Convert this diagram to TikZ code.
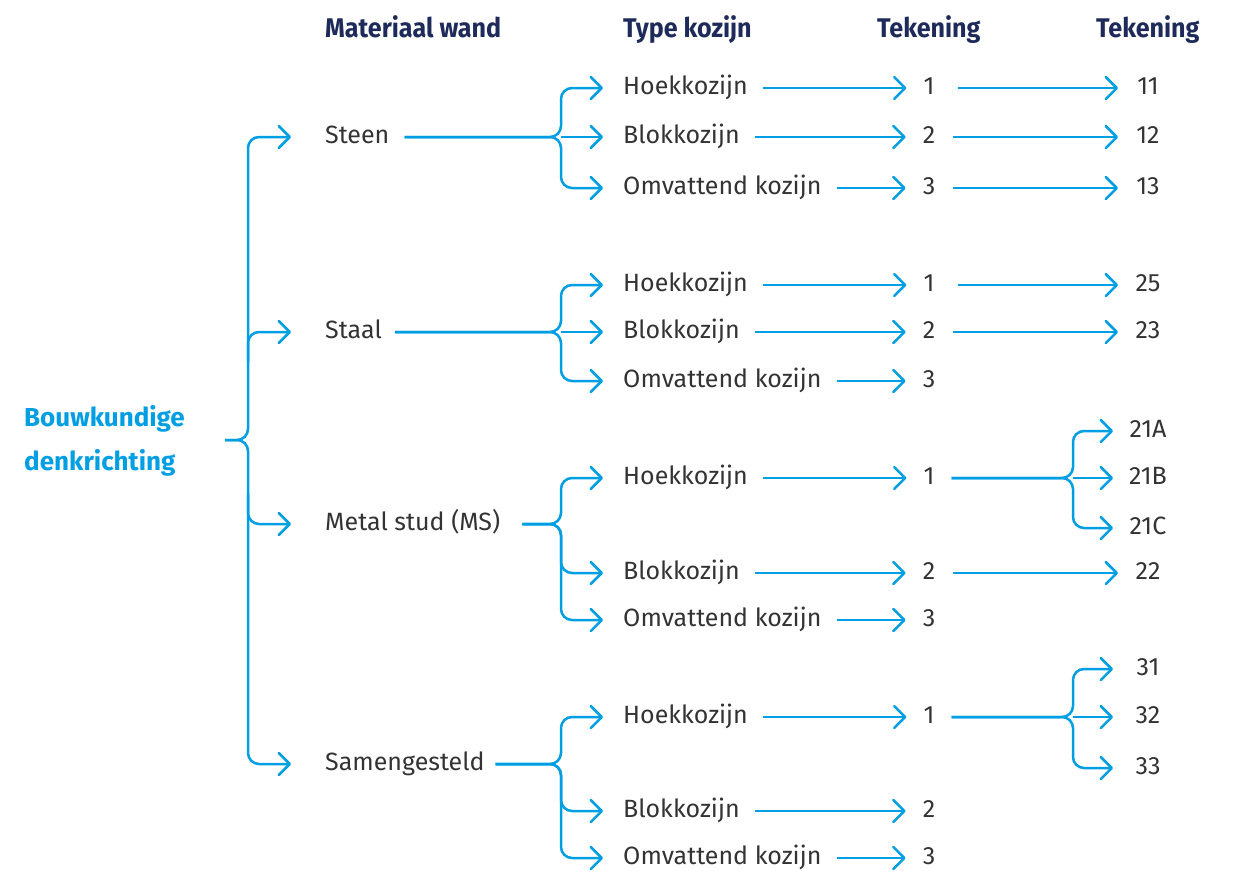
\documentclass[tikz,border=0pt]{standalone}
\usepackage{fontspec}
\setmainfont{Fira Sans}
\newfontfamily\headfont[FakeStretch=0.93]{Fira Sans}
\usetikzlibrary{arrows.meta,calc}
\definecolor{blu}{RGB}{0,158,226}
\definecolor{navy}{RGB}{30,42,90}
\definecolor{txtg}{RGB}{51,51,51}
\tikzset{
  lbl/.style={anchor=west, inner sep=0pt, text height=15pt, text depth=2pt, font=\fontsize{25}{29}\selectfont, text=txtg},
  num/.style={lbl, anchor=center},
  head/.style={anchor=base west, inner sep=0pt, font=\headfont\bfseries\fontsize{27}{30}\selectfont, text=navy},
  rootlbl/.style={anchor=base west, inner sep=0pt, font=\bfseries\fontsize{26}{30}\selectfont, text=blu},
  con/.style={draw=blu, line width=2.5pt, rounded corners=11pt},
  arr/.style={con, -{Straight Barb[length=11pt,width=22pt,round]}},
}
\begin{document}
\begin{tikzpicture}[x=1pt,y=-1pt]
\useasboundingbox (0,0) rectangle (1236,870);
% headers
\node[head] (h1) at (325,37) {Materiaal wand};
\node[head] (h2) at (623,37) {Type kozijn};
\node[head] (h3) at (877,37) {Tekening};
\node[head] (h4) at (1096,37) {Tekening};
% root
\node[rootlbl] (root1) at (24,426) {Bouwkundige};
\node[rootlbl] (root2) at (24,470) {denkrichting};
\coordinate (rj) at (225,440);
\coordinate (rv) at (248,440);
% materials
\node[lbl] (m1) at (325,137) {Steen};
\node[lbl] (m2) at (325,332) {Staal};
\node[lbl] (m3) at (325,524) {Metal stud (MS)};
\node[lbl] (m4) at (325,764) {Samengesteld};
\draw[arr] (rj) -- (rv) |- ($(m1.west)+(-34,0)$);
\draw[arr] (rj) -- (rv) |- ($(m4.west)+(-34,0)$);
\draw[arr] ($(rv |- m2.west)+(0,30)$) |- ($(m2.west)+(-34,0)$);
\draw[arr] ($(rv |- m3.west)+(0,-30)$) |- ($(m3.west)+(-34,0)$);
% type nodes
\node[lbl] (t11) at (623,88) {Hoekkozijn};
\node[lbl] (t12) at (623,137) {Blokkozijn};
\node[lbl] (t13) at (623,188) {Omvattend kozijn};
\node[lbl] (t21) at (623,285) {Hoekkozijn};
\node[lbl] (t22) at (623,332) {Blokkozijn};
\node[lbl] (t23) at (623,381) {Omvattend kozijn};
\node[lbl] (t31) at (623,478) {Hoekkozijn};
\node[lbl] (t32) at (623,573) {Blokkozijn};
\node[lbl] (t33) at (623,620) {Omvattend kozijn};
\node[lbl] (t41) at (623,717) {Hoekkozijn};
\node[lbl] (t42) at (623,811) {Blokkozijn};
\node[lbl] (t43) at (623,858) {Omvattend kozijn};
\coordinate (j1) at (561,137);
\coordinate (j2) at (561,332);
\coordinate (j3) at (561,524);
\coordinate (j4) at (561,764);
% group 1
\draw[arr] ($(m1.east)+(15,0)$) -- (j1) |- ($(t11.west)+(-20,0)$);
\draw[arr] ($(m1.east)+(15,0)$) -- (j1) |- ($(t13.west)+(-20,0)$);
\draw[arr] (j1) -- ($(t12.west)+(-20,0)$);
% group 2
\draw[arr] ($(m2.east)+(13,0)$) -- (j2) |- ($(t21.west)+(-20,0)$);
\draw[arr] ($(m2.east)+(13,0)$) -- (j2) |- ($(t23.west)+(-20,0)$);
\draw[arr] (j2) -- ($(t22.west)+(-20,0)$);
% group 3
\draw[arr] ($(m3.east)+(22,0)$) -- (j3) |- ($(t31.west)+(-20,0)$);
\draw[arr] ($(m3.east)+(22,0)$) -- (j3) |- ($(t32.west)+(-20,0)$);
\draw[arr] ($(m3.east)+(22,0)$) -- (j3) |- ($(t33.west)+(-20,0)$);
% group 4
\draw[arr] ($(m4.east)+(11,0)$) -- (j4) |- ($(t41.west)+(-20,0)$);
\draw[arr] ($(m4.east)+(11,0)$) -- (j4) |- ($(t42.west)+(-20,0)$);
\draw[arr] ($(m4.east)+(11,0)$) -- (j4) |- ($(t43.west)+(-20,0)$);
% numbers
\node[num] (n11) at (929,88) {1};
\node[num] (n12) at (929,137) {2};
\node[num] (n13) at (929,188) {3};
\node[num] (n21) at (929,285) {1};
\node[num] (n22) at (929,332) {2};
\node[num] (n23) at (929,381) {3};
\node[num] (n31) at (929,478) {1};
\node[num] (n32) at (929,573) {2};
\node[num] (n33) at (929,620) {3};
\node[num] (n41) at (929,717) {1};
\node[num] (n42) at (929,811) {2};
\node[num] (n43) at (929,858) {3};
\foreach \g in {11,12,13,21,22,23,31,32,33,41,42,43}{
  \draw[arr] ($(t\g.east)+(15,0)$) -- ($(n\g.west)+(-17,0)$);
}
% finals
\node[num] (f11) at (1148,88) {11};
\node[num] (f12) at (1148,137) {12};
\node[num] (f13) at (1148,188) {13};
\node[num] (f21) at (1148,285) {25};
\node[num] (f22) at (1148,332) {23};
\node[num] (f3a) at (1148,431) {21A};
\node[num] (f3b) at (1148,478) {21B};
\node[num] (f3c) at (1148,528) {21C};
\node[num] (f32) at (1148,573) {22};
\node[num] (f4a) at (1148,669) {31};
\node[num] (f4b) at (1148,717) {32};
\node[num] (f4c) at (1148,768) {33};
\draw[arr] ($(n11.east)+(23,0)$) -- ($(f11.center)+(-30,0)$);
\draw[arr] ($(n12.east)+(18,0)$) -- ($(f12.center)+(-30,0)$);
\draw[arr] ($(n13.east)+(18,0)$) -- ($(f13.center)+(-30,0)$);
\draw[arr] ($(n21.east)+(23,0)$) -- ($(f21.center)+(-30,0)$);
\draw[arr] ($(n22.east)+(18,0)$) -- ($(f22.center)+(-30,0)$);
\draw[arr] ($(n32.east)+(18,0)$) -- ($(f32.center)+(-30,0)$);
\coordinate (jf3) at (1073,478);
\coordinate (jf4) at (1073,717);
\draw[arr] ($(n31.east)+(17,0)$) -- (jf3) |- ($(f3a.center)+(-35,0)$);
\draw[arr] ($(n31.east)+(17,0)$) -- (jf3) |- ($(f3c.center)+(-35,0)$);
\draw[arr] (jf3) -- ($(f3b.center)+(-35,0)$);
\draw[arr] ($(n41.east)+(17,0)$) -- (jf4) |- ($(f4a.center)+(-35,0)$);
\draw[arr] ($(n41.east)+(17,0)$) -- (jf4) |- ($(f4c.center)+(-35,0)$);
\draw[arr] (jf4) -- ($(f4b.center)+(-35,0)$);
\end{tikzpicture}
\end{document}
